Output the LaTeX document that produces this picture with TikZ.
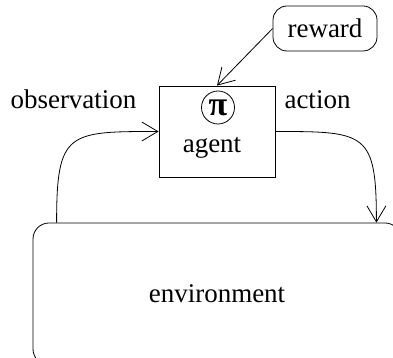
\documentclass[tikz,border=0pt]{standalone}
\usepackage{fontspec}
\setmainfont{Liberation Serif}
\usetikzlibrary{arrows.meta,positioning}

\begin{document}
\begin{tikzpicture}[
		x=1pt, y=1pt,
		font=\fontsize{27}{32}\selectfont,
		line width=0.8pt,
		arrow/.style={-{Straight Barb[length=16pt,width=19pt]}},
		block/.style={draw, fill=white, minimum width=116pt, minimum height=91pt},
		rblock/.style={draw, rounded corners=14pt, minimum width=104pt, minimum height=45pt},
		envblock/.style={draw, rounded corners=16pt, minimum width=368pt, minimum height=142pt},
		circ/.style={draw, circle, minimum size=33pt, inner sep=0pt},
		lbl/.style={anchor=base, inner sep=0pt},
	]
		\useasboundingbox (0,0) rectangle (393,358);
		\clip (0,0) rectangle (393,358);
		\node (env) [envblock] at (217,64) {environment};
		\node (agent) [block] at (217,226.5) {};
		\node (pi) [circ] at (218,250.5) {\fontsize{34}{34}\selectfont\bfseries π};
		\node (agentlbl) [lbl] at (212,205) {agent};
		\node (reward) [rblock] at (325,329.5) {reward};
		\coordinate (obsin) at ([xshift=24pt]env.north west);
		\coordinate (actout) at ([xshift=-25pt]env.north east);
		\node (obslbl) [lbl] at (73.5,249) {observation};
		\node (actlbl) [lbl] at (317.5,249) {action};
		\draw [arrow] (obsin) to[out=90, in=180, looseness=1.7] (agent.west);
		\draw [arrow] (agent.east) to[out=0, in=90, looseness=1.7] (actout);
		\draw [arrow] (reward.west) -- (agent.north);
	\end{tikzpicture}
\end{document}
